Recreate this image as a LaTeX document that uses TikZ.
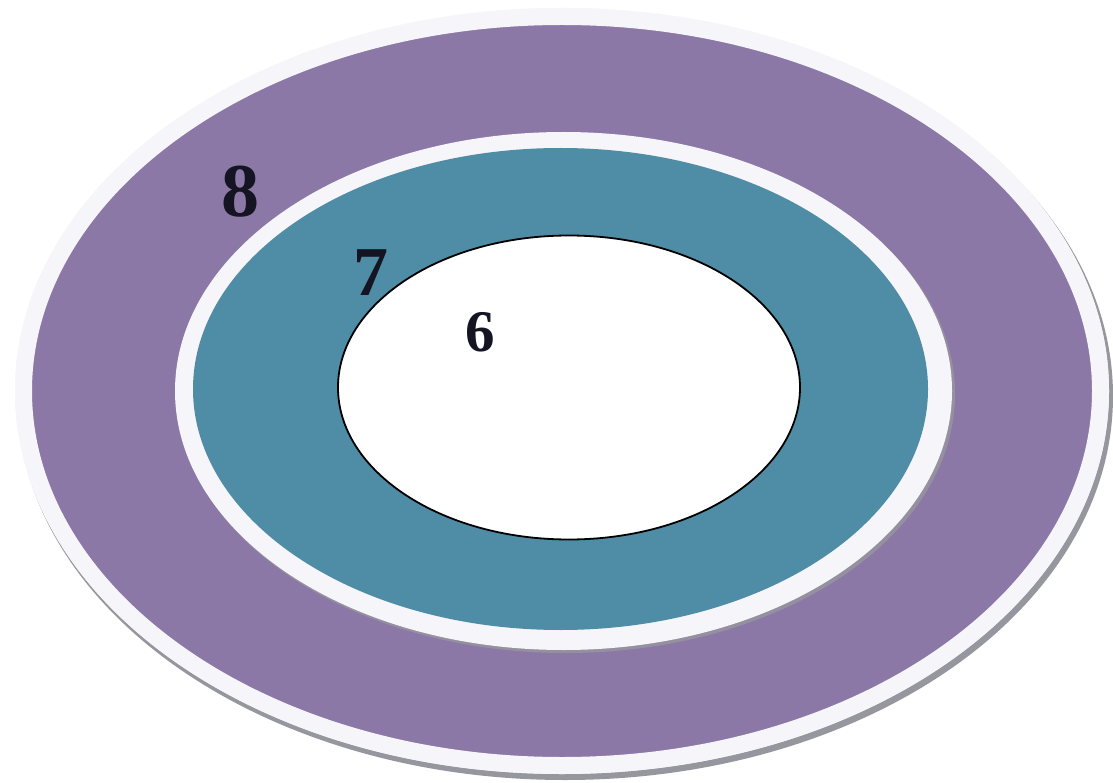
\documentclass[tikz,border=0pt]{standalone}
\usepackage{fontspec}
\setmainfont{Liberation Serif}
\definecolor{ringpurple}{RGB}{139,120,166}
\definecolor{ringteal}{RGB}{79,141,166}
\definecolor{shadowgray}{RGB}{150,150,158}
\definecolor{bandwhite}{RGB}{246,245,249}
\definecolor{labelink}{RGB}{20,20,35}
\tikzset{
  lbl/.style={text=labelink, font=\bfseries, inner sep=0pt, anchor=center},
  whiteband/.style={draw=bandwhite, line width=17pt},
}
\begin{document}
\begin{tikzpicture}[x=1pt,y=-1pt]
\useasboundingbox[fill=white] (0,0) rectangle (1113,783);
% outer ring shadow
\fill[shadowgray] (565,396) ellipse [x radius=548pt, y radius=384pt];
\fill[bandwhite] (562,391) ellipse [x radius=547pt, y radius=383pt];
% outer purple disc with white border
\fill[ringpurple] (562,391) ellipse [x radius=538.5pt, y radius=374.5pt];
\draw[whiteband] (562,391) ellipse [x radius=538.5pt, y radius=374.5pt];
% inner ring shadow
\fill[shadowgray!80!ringpurple] (566,394) ellipse [x radius=389pt, y radius=259pt];
% white band around teal
\fill[bandwhite] (563.5,391) ellipse [x radius=388.5pt, y radius=259pt];
\fill[ringteal] (560.5,389) ellipse [x radius=367.5pt, y radius=241pt];
% innermost white ellipse
\draw[black, line width=1.8pt, fill=white] (569,387.5) ellipse [x radius=231pt, y radius=152pt];
% labels
\node[lbl, font=\bfseries\fontsize{76}{76}\selectfont] (l8) at (240,192) {8};
\node[lbl, font=\bfseries\fontsize{70}{70}\selectfont] (l7) at (371,273) {7};
\node[lbl, font=\bfseries\fontsize{59}{59}\selectfont] (l6) at (480,332) {6};
\end{tikzpicture}
\end{document}
